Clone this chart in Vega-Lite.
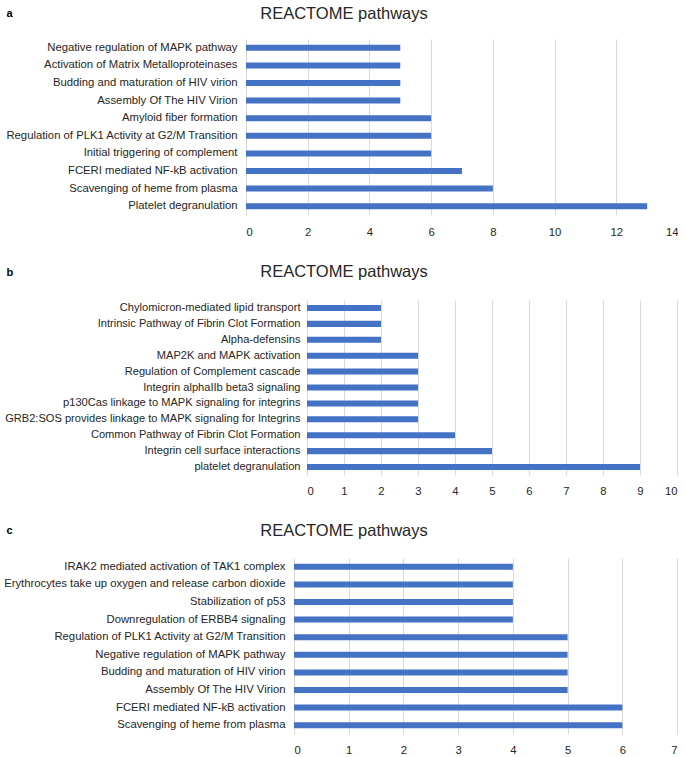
{
  "$schema": "https://vega.github.io/schema/vega-lite/v6.json",
  "padding": {"left": 0, "top": 5, "right": 0, "bottom": 0},
  "spacing": 25,
  "columns": 1,
  "align": "none",
  "config": {
    "view": {"stroke": null},
    "font": "Liberation Sans",
    "title": {"font": "Liberation Sans", "fontSize": 16.5, "fontWeight": "normal", "color": "#262626", "anchor": "middle", "frame": "bounds", "dx": 5},
    "axis": {"labelFont": "Liberation Sans", "labelFontSize": 11.3, "labelColor": "#262626", "ticks": false, "domain": false},
    "axisX": {"grid": true, "gridColor": "#D9D9D9", "gridWidth": 1, "labelPadding": 10, "title": null},
    "axisY": {"grid": false, "labelPadding": 9, "labelLimit": 400, "titleAngle": 0, "titleAlign": "left", "titleBaseline": "alphabetic", "titleFont": "Liberation Sans", "titleFontWeight": "bold", "titleFontSize": 11, "titleColor": "#000000"},
    "bar": {"color": "#4472C4"}
  },
  "concat": [
    {
      "width": 432,
      "height": 176,
      "title": {"text": "REACTOME pathways", "offset": -15},
      "data": {"values": [
        {"pathway": "Negative regulation of MAPK pathway", "count": 5},
        {"pathway": "Activation of Matrix Metalloproteinases", "count": 5},
        {"pathway": "Budding and maturation of HIV virion", "count": 5},
        {"pathway": "Assembly Of The HIV Virion", "count": 5},
        {"pathway": "Amyloid fiber formation", "count": 6},
        {"pathway": "Regulation of PLK1 Activity at G2/M Transition", "count": 6},
        {"pathway": "Initial triggering of complement", "count": 6},
        {"pathway": "FCERI mediated NF-kB activation", "count": 7},
        {"pathway": "Scavenging of heme from plasma", "count": 8},
        {"pathway": "Platelet degranulation", "count": 13}
      ]},
      "mark": {"type": "bar"},
      "encoding": {
        "y": {"field": "pathway", "type": "nominal", "sort": null, "scale": {"paddingInner": 0.66, "paddingOuter": 0.33},
              "axis": {"title": "a", "titleX": -240, "titleY": -23, "minExtent": 246, "maxExtent": 246}},
        "x": {"field": "count", "type": "quantitative", "scale": {"domain": [0, 14], "nice": false},
              "axis": {"values": [0, 2, 4, 6, 8, 10, 12, 14], "labelPadding": 11}}
      }
    },
    {
      "width": 432,
      "height": 175,
      "title": {"text": "REACTOME pathways", "offset": -14},
      "data": {"values": [
        {"pathway": "Chylomicron-mediated lipid transport", "count": 2},
        {"pathway": "Intrinsic Pathway of Fibrin Clot Formation", "count": 2},
        {"pathway": "Alpha-defensins", "count": 2},
        {"pathway": "MAP2K and MAPK activation", "count": 3},
        {"pathway": "Regulation of Complement cascade", "count": 3},
        {"pathway": "Integrin alphaIIb beta3 signaling", "count": 3},
        {"pathway": "p130Cas linkage to MAPK signaling for integrins", "count": 3},
        {"pathway": "GRB2:SOS provides linkage to MAPK signaling for Integrins", "count": 3},
        {"pathway": "Common Pathway of Fibrin Clot Formation", "count": 4},
        {"pathway": "Integrin cell surface interactions", "count": 5},
        {"pathway": "platelet degranulation", "count": 9}
      ]},
      "mark": {"type": "bar"},
      "encoding": {
        "y": {"field": "pathway", "type": "nominal", "sort": null, "scale": {"paddingInner": 0.62, "paddingOuter": 0.31},
              "axis": {"title": "b", "titleX": -301, "titleY": -25, "offset": -61, "minExtent": 307, "maxExtent": 307, "labelPadding": 7, "labelFontSize": 11.1}},
        "x": {"field": "count", "type": "quantitative", "scale": {"domain": [0, 10], "nice": false, "range": [61, 431]},
              "axis": {"values": [0, 1, 2, 3, 4, 5, 6, 7, 8, 9, 10]}}
      }
    },
    {
      "width": 432,
      "height": 176,
      "title": {"text": "REACTOME pathways", "offset": -15},
      "data": {"values": [
        {"pathway": "IRAK2 mediated activation of TAK1 complex", "count": 4},
        {"pathway": "Erythrocytes take up oxygen and release carbon dioxide", "count": 4},
        {"pathway": "Stabilization of p53", "count": 4},
        {"pathway": "Downregulation of ERBB4 signaling", "count": 4},
        {"pathway": "Regulation of PLK1 Activity at G2/M Transition", "count": 5},
        {"pathway": "Negative regulation of MAPK pathway", "count": 5},
        {"pathway": "Budding and maturation of HIV virion", "count": 5},
        {"pathway": "Assembly Of The HIV Virion", "count": 5},
        {"pathway": "FCERI mediated NF-kB activation", "count": 6},
        {"pathway": "Scavenging of heme from plasma", "count": 6}
      ]},
      "mark": {"type": "bar"},
      "encoding": {
        "y": {"field": "pathway", "type": "nominal", "sort": null, "scale": {"paddingInner": 0.66, "paddingOuter": 0.33},
              "axis": {"title": "c", "titleX": -288, "titleY": -25, "offset": -48, "minExtent": 294, "maxExtent": 294}},
        "x": {"field": "count", "type": "quantitative", "scale": {"domain": [0, 7], "nice": false, "range": [48, 431]},
              "axis": {"values": [0, 1, 2, 3, 4, 5, 6, 7]}}
      }
    }
  ]
}
